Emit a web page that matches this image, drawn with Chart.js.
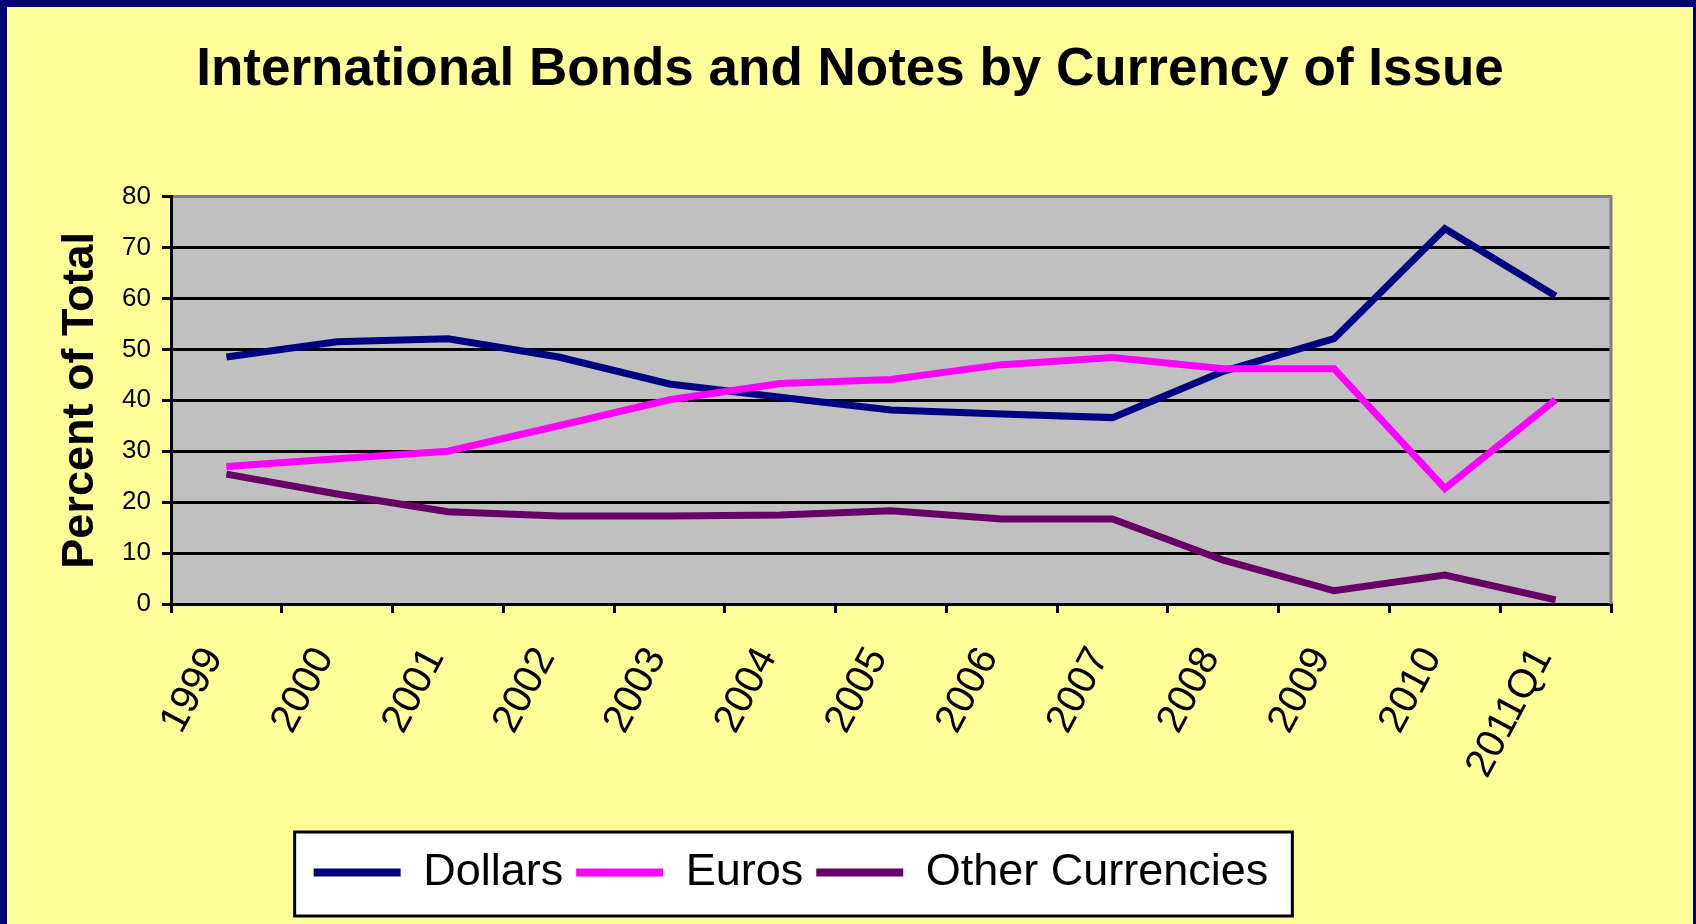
<!DOCTYPE html>
<html lang="en">
<head>
<meta charset="UTF-8">
<title>International Bonds and Notes by Currency of Issue</title>
<script src="https://cdn.jsdelivr.net/npm/chart.js"></script>
<style>
  html, body { margin: 0; padding: 0; background: #000070; }
  .quadro { position: absolute; left: 7px; top: 7px; width: 1686px; height: 917px; background: #ffff99; }
</style>
</head>
<body>
<div class="quadro"><canvas id="grafico"></canvas></div>
<script>
// dados (percentual do total)
const anos = ['1999', '2000', '2001', '2002', '2003', '2004', '2005', '2006', '2007', '2008', '2009', '2010', '2011Q1'];
const dolares = [48.5, 51.5, 52.1, 48.5, 43.2, 40.6, 38.1, 37.3, 36.6, 45.7, 52.1, 73.7, 60.5];
const euros = [27.0, 28.5, 30.0, 35.0, 40.1, 43.3, 44.1, 47.0, 48.4, 46.2, 46.2, 22.7, 40.1];
const outras = [25.5, 21.6, 18.1, 17.3, 17.3, 17.5, 18.3, 16.7, 16.7, 8.6, 2.6, 5.7, 0.8];
const ticksY = [0, 10, 20, 30, 40, 50, 60, 70, 80];

Chart.defaults.font.family = "'Liberation Sans', Arial, sans-serif";
Chart.defaults.color = '#000';

// fundo cinza da area do grafico, caixa da legenda e borda direita
const fundoPlot = {
    id: 'fundoPlot',
    afterLayout(chart) {
        // titulo centrado na figura toda, legenda um pouco a esquerda
        chart.titleBlock.left += 41;
        chart.titleBlock.right += 41;
        chart.legend.left -= 18;
        chart.legend.right -= 18;
    },
    beforeDraw(chart) {
        const { ctx, chartArea: a } = chart;
        ctx.save();
        ctx.fillStyle = '#c0c0c0';
        ctx.fillRect(a.left, a.top, a.right - a.left, a.bottom - a.top);
        const caixas = chart.legend.legendHitBoxes;
        if (caixas && caixas.length) {
            const ult = caixas[caixas.length - 1];
            const x0 = caixas[0].left - 19;
            const x1 = ult.left + ult.width + 24;
            const y0 = caixas[0].top - 18;
            const y1 = caixas[0].top + caixas[0].height + 21;
            ctx.fillStyle = '#fff';
            ctx.fillRect(x0, y0, x1 - x0, y1 - y0);
            ctx.lineWidth = 3;
            ctx.strokeStyle = '#000';
            ctx.strokeRect(x0, y0, x1 - x0, y1 - y0);
        }
        ctx.restore();
    },
    beforeDatasetsDraw(chart) {
        const { ctx, chartArea: a } = chart;
        ctx.save();
        ctx.strokeStyle = '#808080';
        ctx.lineWidth = 3;
        ctx.beginPath();
        ctx.moveTo(a.right, a.top - 1.5);
        ctx.lineTo(a.right, a.bottom);
        ctx.stroke();
        ctx.restore();
    }
};

const ctx = document.getElementById('grafico').getContext('2d');
new Chart(ctx, {
    type: 'line',
    data: {
        labels: anos,
        datasets: [
            { label: 'Dollars', data: dolares, borderColor: '#000080', backgroundColor: '#000080', borderWidth: 7, order: 3 },
            { label: 'Euros', data: euros, borderColor: '#ff00ff', backgroundColor: '#ff00ff', borderWidth: 7, order: 2 },
            { label: 'Other Currencies', data: outras, borderColor: '#660066', backgroundColor: '#660066', borderWidth: 7, order: 1 }
        ]
    },
    options: {
        responsive: true,
        maintainAspectRatio: false,
        animation: false,
        layout: { padding: { left: 0, right: 82, top: 0, bottom: 19 } },
        elements: {
            line: { tension: 0, fill: false },
            point: { radius: 0, hoverRadius: 0 }
        },
        plugins: {
            title: {
                display: true,
                text: 'International Bonds and Notes by Currency of Issue',
                font: { size: 53, weight: 'bold' },
                padding: { top: 32, bottom: 94 }
            },
            legend: {
                position: 'bottom',
                labels: {
                    font: { size: 45 },
                    boxWidth: 87,
                    boxHeight: 8,
                    padding: 13,
                    sort: (a, b) => a.datasetIndex - b.datasetIndex,
                    generateLabels(chart) {
                        return Chart.defaults.plugins.legend.labels.generateLabels(chart)
                            .map(l => ({ ...l, fillStyle: l.strokeStyle, lineWidth: 0 }));
                    }
                }
            },
            tooltip: { enabled: false }
        },
        scales: {
            x: {
                offset: true,
                grid: { offset: true, drawOnChartArea: false, drawTicks: true, tickLength: 9, color: '#000', lineWidth: 3 },
                border: { display: true, color: '#000', width: 3 },
                ticks: { font: { size: 40 }, minRotation: 62, maxRotation: 62, autoSkip: false, padding: 27, labelOffset: -13 },
                afterFit(scale) { scale.height = 233; }
            },
            y: {
                min: 0,
                max: 80,
                afterBuildTicks(scale) { scale.ticks = ticksY.map(v => ({ value: v })); },
                grid: {
                    color: c => (c.tick && c.tick.value === 80 ? '#808080' : '#000'),
                    tickColor: '#000',
                    lineWidth: 3,
                    tickLength: 9
                },
                border: { display: true, color: '#000', width: 3 },
                ticks: { font: { size: 26 }, padding: 11 },
                title: {
                    display: true,
                    text: 'Percent of Total',
                    font: { size: 45, weight: 'bold' },
                    padding: { top: 47, bottom: 0 }
                },
                afterFit(scale) { scale.width = 164; }
            }
        }
    },
    plugins: [fundoPlot]
});
</script>
</body>
</html>
